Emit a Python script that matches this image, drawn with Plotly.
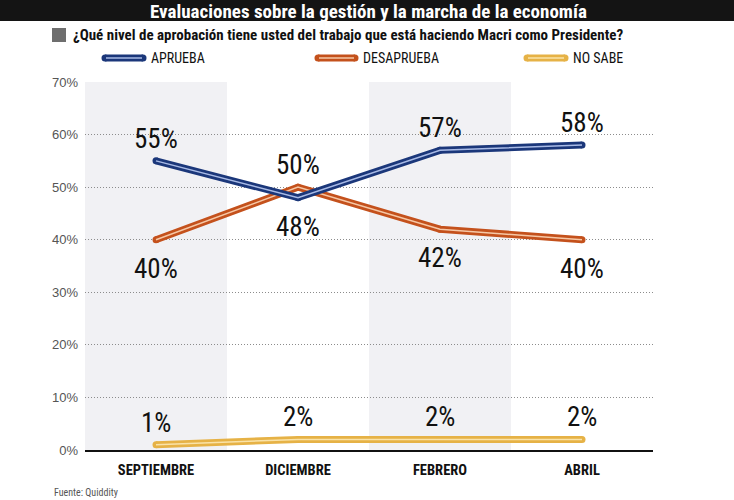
import plotly.graph_objects as go

# ---- data ----
categories = ["SEPTIEMBRE", "DICIEMBRE", "FEBRERO", "ABRIL"]
aprueba = [55, 48, 57, 58]
desaprueba = [40, 50, 42, 40]
no_sabe = [1, 2, 2, 2]
y_ticks = [0, 10, 20, 30, 40, 50, 60, 70]
series_names = ["APRUEBA", "DESAPRUEBA", "NO SABE"]

title = "Evaluaciones sobre la gestión y la marcha de la economía"
subtitle = "¿Qué nivel de aprobación tiene usted del trabajo que está haciendo Macri como Presidente?"
source = "Fuente: Quiddity"

# ---- styles ----
W, H = 734, 500
ML, MR, MT, MB = 85, 81, 82, 50
PW, PH = W - ML - MR, H - MT - MB
COND = "Roboto Condensed, Open Sans Condensed, DejaVu Sans Condensed, sans-serif"
SANS = "Liberation Sans, Arial, sans-serif"
colors = {"APRUEBA": ("#1b377a", "#a9bbe6"),
          "DESAPRUEBA": ("#c4511c", "#f6c8a6"),
          "NO SABE": ("#e6b246", "#fae3a8")}
BAND = "#f1f1f4"


def xp(px):
    return (px - ML) / PW


def yp(py):
    return (H - MB - py) / PH


fig = go.Figure()

series = {"APRUEBA": aprueba, "DESAPRUEBA": desaprueba, "NO SABE": no_sabe}
for name in ["NO SABE", "DESAPRUEBA", "APRUEBA"]:
    vals = series[name]
    outer, inner = colors[name]
    fig.add_trace(go.Scatter(x=categories, y=vals, mode="lines+markers",
                             line=dict(color=outer, width=7),
                             marker=dict(color=outer, size=7, line=dict(width=0)),
                             showlegend=False, hoverinfo="skip", cliponaxis=False))
    fig.add_trace(go.Scatter(x=categories, y=vals, mode="lines",
                             line=dict(color=inner, width=1.5),
                             showlegend=False, hoverinfo="skip", cliponaxis=False))

shapes = []
# alternating category bands
for i, c in enumerate(categories):
    if i % 2 == 0:
        shapes.append(dict(type="rect", xref="x", yref="y", x0=i - 0.5, x1=i + 0.5,
                           y0=y_ticks[0], y1=y_ticks[-1], fillcolor=BAND,
                           line=dict(width=0), layer="below"))
# title bar
shapes.append(dict(type="rect", xref="paper", yref="paper", x0=xp(0), x1=xp(W),
                   y0=yp(21), y1=yp(0), fillcolor="#141414", line=dict(width=0)))
# subtitle square
shapes.append(dict(type="rect", xref="paper", yref="paper", x0=xp(52), x1=xp(66),
                   y0=yp(42), y1=yp(28), fillcolor="#6e6e6e", line=dict(width=0)))

annotations = []
annotations.append(dict(text="<b>" + title + "</b>", x=xp(W / 2 + 1), y=yp(11),
                        xref="paper", yref="paper", xanchor="center", yanchor="middle",
                        showarrow=False, borderpad=0,
                        font=dict(family=COND, size=19, color="white")))
annotations.append(dict(text="<b>" + subtitle + "</b>", x=xp(71), y=yp(35),
                        xref="paper", yref="paper", xanchor="left", yanchor="middle",
                        showarrow=False, font=dict(family=COND, size=15, color="#111")))
annotations.append(dict(text=source, x=xp(52), y=yp(492),
                        xref="paper", yref="paper", xanchor="left", yanchor="middle",
                        showarrow=False, font=dict(family=COND, size=10, color="#555")))

# legend (manual)
leg = [(105, 143, 149), (318, 355, 361), (527, 565, 571)]
for name, (x0, x1, tx) in zip(series_names, leg):
    outer, inner = colors[name]
    ly = yp(58)
    shapes.append(dict(type="line", xref="paper", yref="paper", x0=xp(x0), x1=xp(x1),
                       y0=ly, y1=ly, line=dict(color=outer, width=7)))
    for ex in (x0, x1):
        shapes.append(dict(type="circle", xref="paper", yref="paper",
                           xsizemode="pixel", ysizemode="pixel",
                           xanchor=xp(ex), yanchor=ly, x0=-3.5, x1=3.5, y0=-3.5, y1=3.5,
                           fillcolor=outer, line=dict(width=0)))
    shapes.append(dict(type="line", xref="paper", yref="paper", x0=xp(x0 + 1), x1=xp(x1 - 1),
                       y0=ly, y1=ly, line=dict(color=inner, width=1.5)))
    annotations.append(dict(text=name, x=xp(tx), y=ly, xref="paper", yref="paper",
                            xanchor="left", yanchor="middle", showarrow=False,
                            font=dict(family=COND, size=14, color="#111")))

# data labels
LBL = dict(family=COND, size=27, color="#111")
for i, c in enumerate(categories):
    a, d, n = aprueba[i], desaprueba[i], no_sabe[i]
    a_up = a >= d
    annotations.append(dict(text=f"{a}%", x=c, y=a, xref="x", yref="y", showarrow=False,
                            yanchor="middle", yshift=22 if a_up else -29, font=LBL))
    annotations.append(dict(text=f"{d}%", x=c, y=d, xref="x", yref="y", showarrow=False,
                            yanchor="middle", yshift=-29 if a_up else 22, font=LBL))
    annotations.append(dict(text=f"{n}%", x=c, y=n, xref="x", yref="y", showarrow=False,
                            yanchor="middle", yshift=22, font=LBL))

fig.update_layout(
    width=W, height=H,
    margin=dict(l=ML, r=MR, t=MT, b=MB),
    paper_bgcolor="white", plot_bgcolor="white",
    shapes=shapes, annotations=annotations,
    showlegend=False,
    xaxis=dict(type="category", range=[-0.5, len(categories) - 0.5],
               showgrid=False, zeroline=False, showline=True, linecolor="#111",
               linewidth=2, ticks="", ticklabelstandoff=6,
               tickfont=dict(family=COND, size=14.5, color="#111", weight="bold")),
    yaxis=dict(range=[y_ticks[0], y_ticks[-1]], tickvals=y_ticks,
               ticktext=[f"{v}%" for v in y_ticks],
               showgrid=True, gridcolor="#8c8c8c", griddash="1px,2px", gridwidth=1,
               zeroline=False, showline=False, ticks="", ticklabelstandoff=6,
               tickfont=dict(family=SANS, size=13, color="#555")),
)

fig.write_html("out.html", config={"displayModeBar": False},
               post_script="document.body.style.margin='0';")
